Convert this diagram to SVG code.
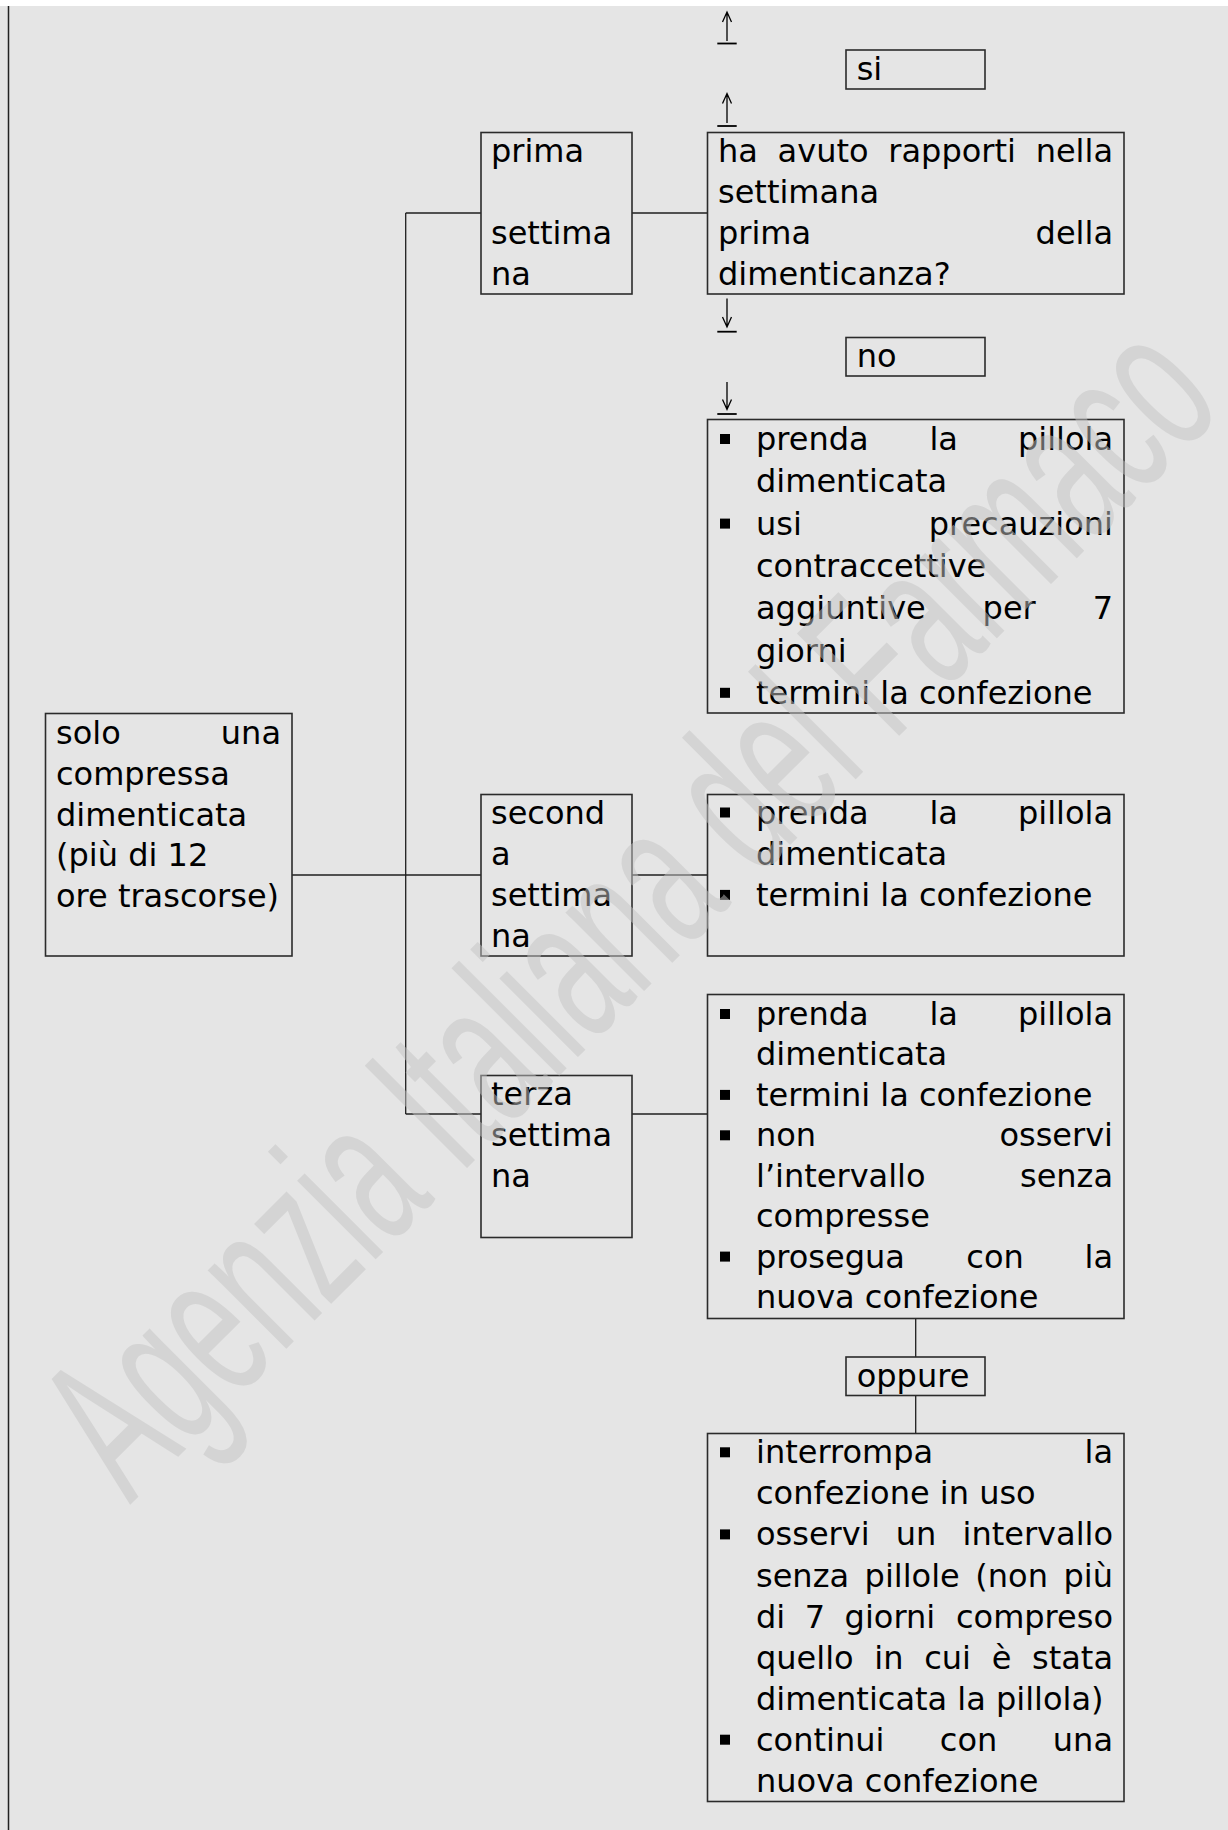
<svg xmlns="http://www.w3.org/2000/svg" width="1228" height="1830" viewBox="0 0 1228 1830">
<style>
text{font-family:"DejaVu Sans","Noto Sans",sans-serif;font-size:32px;fill:#000}
.box{fill:none;stroke:#2b2b2b;stroke-width:1.6}
.con{fill:none;stroke:#1e1e1e;stroke-width:1.3}
.e{text-anchor:end}
.b{fill:#000}
.ul{stroke:#000;stroke-width:1.8}
.arr{fill:none;stroke:#000;stroke-width:1.3}
.wm{font-family:"Liberation Sans",Arial,sans-serif;font-size:210px;fill:#c4c4c4;opacity:0.5}
</style>
<defs><rect id="bul" width="10" height="10"/></defs>
<rect x="0" y="0" width="1228" height="1830" fill="#e5e5e5"/>
<rect x="0" y="0" width="1228" height="6" fill="#fff"/>
<line x1="8.5" y1="6" x2="8.5" y2="1830" stroke="#222" stroke-width="1.5"/>

<g id="connectors">
<line class="con" x1="292" y1="875" x2="481" y2="875"/>
<line class="con" x1="632" y1="875" x2="708" y2="875"/>
<line class="con" x1="405.7" y1="213" x2="405.7" y2="1114"/>
<line class="con" x1="405.7" y1="213" x2="481" y2="213"/>
<line class="con" x1="632" y1="213" x2="708" y2="213"/>
<line class="con" x1="405.7" y1="1114" x2="481" y2="1114"/>
<line class="con" x1="632" y1="1114" x2="708" y2="1114"/>
<line class="con" x1="915.7" y1="1318" x2="915.7" y2="1357"/>
<line class="con" x1="915.7" y1="1396" x2="915.7" y2="1434"/>
<path class="arr" d="M727,41 V12 M722.5,22 L727,12 L731.5,22"/>
<line class="ul" x1="717.3" y1="43.5" x2="736.7" y2="43.5"/>
<path class="arr" d="M727,123 V93.5 M722.5,103.5 L727,93.5 L731.5,103.5"/>
<line class="ul" x1="717.3" y1="126" x2="736.7" y2="126"/>
<path class="arr" d="M727,298.5 V327 M722.5,317 L727,327 L731.5,317"/>
<line class="ul" x1="717.3" y1="331.7" x2="736.7" y2="331.7"/>
<path class="arr" d="M727,382 V409.5 M722.5,399.5 L727,409.5 L731.5,399.5"/>
<line class="ul" x1="717.3" y1="414" x2="736.7" y2="414"/>
</g>

<g id="node-solo">
<rect class="box" x="45.5" y="713.5" width="246.5" height="242.5"/>
<text x="56" y="744">solo</text><text class="e" x="281" y="744">una</text>
<text x="56" y="784.8">compressa</text>
<text x="56" y="825.6">dimenticata</text>
<text x="56" y="866.4">(più di 12</text>
<text x="56" y="907.2">ore trascorse)</text>
</g>

<g id="node-prima">
<rect class="box" x="481" y="132.5" width="151" height="161.5"/>
<text x="491" y="162">prima</text>
<text x="491" y="243.5">settima</text>
<text x="491" y="285">na</text>
</g>

<g id="node-domanda">
<rect class="box" x="707.5" y="132.5" width="416.5" height="161.5"/>
<text x="718" y="162">ha</text><text x="777.6" y="162">avuto</text><text x="888.3" y="162">rapporti</text><text class="e" x="1113" y="162">nella</text>
<text x="718" y="203">settimana</text>
<text x="718" y="243.5">prima</text><text class="e" x="1113" y="243.5">della</text>
<text x="718" y="285">dimenticanza?</text>
</g>

<g id="node-si">
<rect class="box" x="846" y="50" width="139" height="39"/>
<text x="856.7" y="80">si</text>
</g>

<g id="node-no">
<rect class="box" x="846" y="337.5" width="139" height="38.5"/>
<text x="856.7" y="367.3">no</text>
</g>

<g id="node-lista1">
<rect class="box" x="707.5" y="419.5" width="416.5" height="293.5"/>
<use href="#bul" class="b" x="720" y="434"/>
<text x="756" y="450">prenda</text><text x="929.4" y="450">la</text><text class="e" x="1113" y="450">pillola</text>
<text x="756" y="492.3">dimenticata</text>
<use href="#bul" class="b" x="720" y="518.6"/>
<text x="756" y="534.6">usi</text><text class="e" x="1113" y="534.6">precauzioni</text>
<text x="756" y="576.9">contraccettive</text>
<text x="756" y="619.2">aggiuntive</text><text x="982.6" y="619.2">per</text><text class="e" x="1113" y="619.2">7</text>
<text x="756" y="661.5">giorni</text>
<use href="#bul" class="b" x="720" y="687.8"/>
<text x="756" y="703.8">termini la confezione</text>
</g>

<g id="node-seconda">
<rect class="box" x="481" y="794.5" width="151" height="161.5"/>
<text x="491" y="824">second</text>
<text x="491" y="865">a</text>
<text x="491" y="906">settima</text>
<text x="491" y="947">na</text>
</g>

<g id="node-lista2">
<rect class="box" x="707.5" y="794.5" width="416.5" height="161.5"/>
<use href="#bul" class="b" x="720" y="807.5"/>
<text x="756" y="823.5">prenda</text><text x="929.4" y="823.5">la</text><text class="e" x="1113" y="823.5">pillola</text>
<text x="756" y="864.7">dimenticata</text>
<use href="#bul" class="b" x="720" y="889.9"/>
<text x="756" y="905.9">termini la confezione</text>
</g>

<g id="node-terza">
<rect class="box" x="481" y="1075.5" width="151" height="162"/>
<text x="491" y="1105">terza</text>
<text x="491" y="1145.5">settima</text>
<text x="491" y="1186.5">na</text>
</g>

<g id="node-lista3">
<rect class="box" x="707.5" y="994.5" width="416.5" height="324"/>
<use href="#bul" class="b" x="720" y="1009"/>
<text x="756" y="1025">prenda</text><text x="929.4" y="1025">la</text><text class="e" x="1113" y="1025">pillola</text>
<text x="756" y="1065.4">dimenticata</text>
<use href="#bul" class="b" x="720" y="1089.9"/>
<text x="756" y="1105.9">termini la confezione</text>
<use href="#bul" class="b" x="720" y="1130.3"/>
<text x="756" y="1146.3">non</text><text class="e" x="1113" y="1146.3">osservi</text>
<text x="756" y="1186.7">l’intervallo</text><text class="e" x="1113" y="1186.7">senza</text>
<text x="756" y="1227.1">compresse</text>
<use href="#bul" class="b" x="720" y="1251.6"/>
<text x="756" y="1267.6">prosegua</text><text x="966.3" y="1267.6">con</text><text class="e" x="1113" y="1267.6">la</text>
<text x="756" y="1308">nuova confezione</text>
</g>

<g id="node-oppure">
<rect class="box" x="846" y="1357" width="139" height="38.5"/>
<text x="856.7" y="1387">oppure</text>
</g>

<g id="node-lista4">
<rect class="box" x="707.5" y="1433.5" width="416.5" height="368"/>
<use href="#bul" class="b" x="720" y="1447.3"/>
<text x="756" y="1463.3">interrompa</text><text class="e" x="1113" y="1463.3">la</text>
<text x="756" y="1504.4">confezione in uso</text>
<use href="#bul" class="b" x="720" y="1529.4"/>
<text x="756" y="1545.4">osservi</text><text x="895.8" y="1545.4">un</text><text class="e" x="1113" y="1545.4">intervallo</text>
<text x="756" y="1586.5">senza</text><text x="864.6" y="1586.5">pillole</text><text x="975.3" y="1586.5">(non</text><text class="e" x="1113" y="1586.5">più</text>
<text x="756" y="1627.5">di</text><text x="804.7" y="1627.5">7</text><text x="844.6" y="1627.5">giorni</text><text class="e" x="1113" y="1627.5">compreso</text>
<text x="756" y="1668.6">quello</text><text x="874.3" y="1668.6">in</text><text x="924.2" y="1668.6">cui</text><text x="991.7" y="1668.6">è</text><text class="e" x="1113" y="1668.6">stata</text>
<text x="756" y="1709.6">dimenticata la pillola)</text>
<use href="#bul" class="b" x="720" y="1734.7"/>
<text x="756" y="1750.7">continui</text><text x="939.8" y="1750.7">con</text><text class="e" x="1113" y="1750.7">una</text>
<text x="756" y="1791.7">nuova confezione</text>
</g>

<text class="wm" transform="translate(130,1505) rotate(-45) scale(0.57,1)">Agenzia Italiana del Farmaco</text>
</svg>
